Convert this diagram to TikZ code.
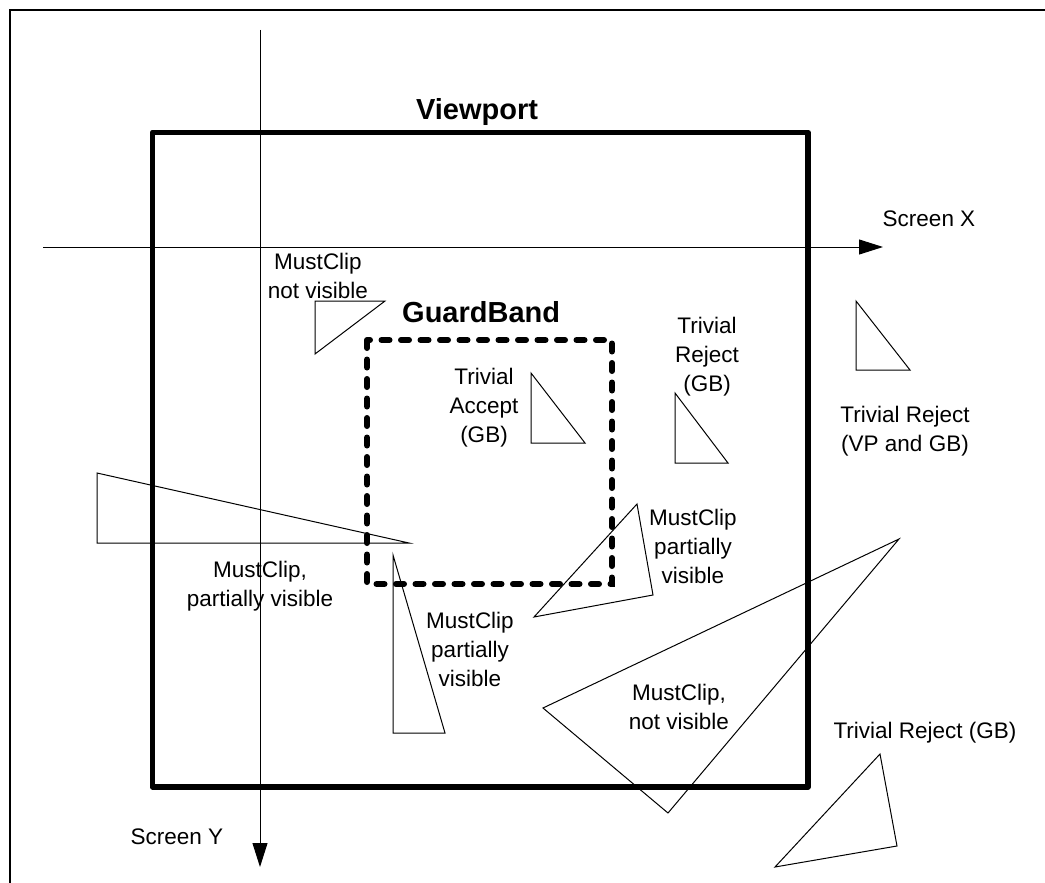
\documentclass[tikz,border=0pt]{standalone}
\usepackage{fontspec}
\setmainfont{Liberation Sans}
\usetikzlibrary{arrows.meta}
\begin{document}
\begin{tikzpicture}[x=1pt,y=-1pt,
 lbl/.style={font=\fontsize{22.5}{29}\selectfont, align=center, inner sep=0pt},
 ttl/.style={font=\fontsize{29}{34}\selectfont\bfseries, inner sep=0pt},
 tri/.style={draw, line width=1pt, line join=miter},
 axis/.style={draw, line width=1pt, -{Triangle[length=24pt,width=15pt]}},
 vp/.style={draw, line width=5.5pt, line join=round},
 gb/.style={draw, line width=6pt, line cap=round, dash pattern=on 8pt off 11.5pt},
]
\useasboundingbox (0,0) rectangle (1045,883);
\draw[line width=2pt] (9.5,900) -- (9.5,10) -- (1060,10);
% viewport and guard band
\draw[vp] (152.5,132.3) rectangle (808,787);
\draw[gb] (367,340) rectangle (612,584);
\node[ttl] (vptitle) at (477,112) {Viewport};
\node[ttl, anchor=west] (gbtitle) at (402,312) {GuardBand};
% axes
\coordinate (xs) at (43,247);
\coordinate (xe) at (883,247);
\coordinate (ys) at (260,30);
\coordinate (ye) at (260,867);
\draw[axis] (xs) -- (xe);
\draw[axis] (ys) -- (ye);
\node[lbl] (sx) at (929,219) {Screen X};
\node[lbl] (sy) at (177,837) {Screen Y};
% triangles
\draw[tri] (315,301) -- (385,301) -- (315,354) -- cycle;
\draw[tri] (531,373) -- (531,443) -- (585,443) -- cycle;
\draw[tri] (675,393) -- (675,463) -- (728,463) -- cycle;
\draw[tri] (856,301) -- (856,370) -- (910,370) -- cycle;
\draw[tri] (637,504) -- (653,595) -- (534,617) -- cycle;
\draw[tri] (97,473) -- (97,543) -- (409,543) -- cycle;
\draw[tri] (393,555) -- (393,733) -- (445,733) -- cycle;
\draw[tri] (899,539) -- (543,708) -- (668,813) -- cycle;
\draw[tri] (880,754) -- (897,846) -- (775,867) -- cycle;
% labels
\node[lbl] (l1) at (318,276) {MustClip\\not visible};
\node[lbl] (l2) at (484,408) {Trivial\\Accept\\(GB)};
\node[lbl] (l3) at (707,357) {Trivial\\Reject\\(GB)};
\node[lbl] (l4) at (905,431) {Trivial Reject\\(VP and GB)};
\node[lbl] (l5) at (693,546) {MustClip\\partially\\visible};
\node[lbl] (l6) at (260,586) {MustClip,\\partially visible};
\node[lbl] (l7) at (470,649) {MustClip\\partially\\visible};
\node[lbl] (l8) at (679,707) {MustClip,\\not visible};
\node[lbl] (l9) at (925,733) {Trivial Reject (GB)};
\end{tikzpicture}
\end{document}
